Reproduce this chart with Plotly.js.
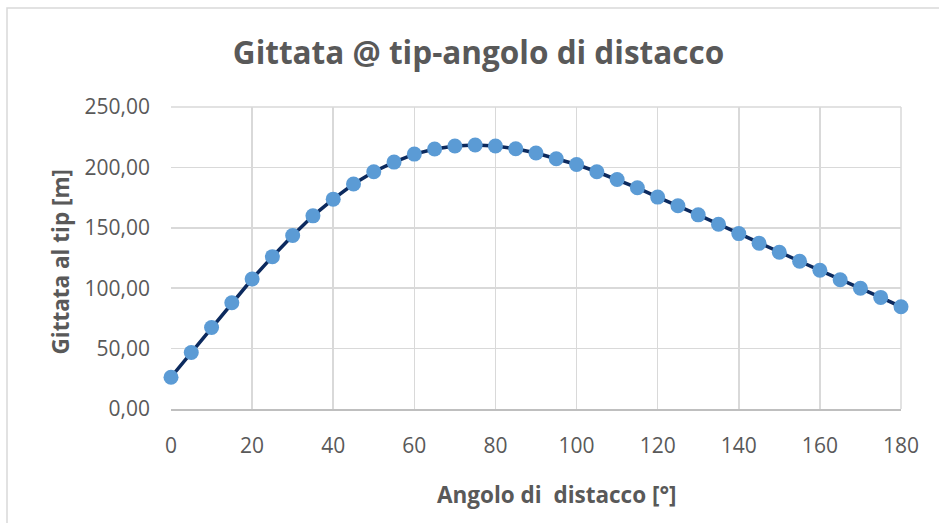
<!DOCTYPE html>
<html>
<head>
<meta charset="utf-8">
<script src="https://cdn.plot.ly/plotly-3.0.1.min.js"></script>
<style>html,body{margin:0;padding:0;background:#fff;}#chart{width:939px;height:523px;}</style>
</head>
<body>
<div id="chart"></div>
<script>
const angles = [0,5,10,15,20,25,30,35,40,45,50,55,60,65,70,75,80,85,90,95,100,105,110,115,120,125,130,135,140,145,150,155,160,165,170,175,180];
const range = [26.3,46.8,67.5,88.0,107.6,126.1,143.6,159.9,173.7,186.2,196.4,204.4,211.0,215.2,217.7,218.5,217.7,215.4,211.9,207.2,202.4,196.4,190.0,183.1,175.4,168.2,160.7,153.0,145.2,137.2,129.8,122.3,114.8,107.0,99.9,92.4,84.6];
const xTickVals = [0,20,40,60,80,100,120,140,160,180];
const yTickVals = [0,50,100,150,200,250];
const titleText = "Gittata @ tip-angolo di distacco";
const xTitle = "Angolo di  distacco [°]";
const yTitle = "Gittata al tip [m]";

const font = "Open Sans, sans-serif";
const gray = '#595959';
const L = 171, R = 901, T = 107, B = 409;
const px = v => (v - L) / (R - L);
const py = v => (B - v) / (B - T);

const trace = {
  x: angles, y: range, type: 'scatter', mode: 'lines+markers',
  line: {color: '#0c2a5e', width: 3.5},
  marker: {color: '#5b9bd5', size: 15},
  cliponaxis: false,
  hoverinfo: 'x+y'
};
const layout = {
  width: 939, height: 523,
  margin: {l: L, r: 939 - R, t: T, b: 523 - B},
  paper_bgcolor: '#fff', plot_bgcolor: '#fff',
  separators: ',.',
  showlegend: false,
  font: {family: font, color: gray, size: 21},
  title: {text: '<b>' + titleText + '</b>', x: 478.5 / 939, xanchor: 'center', y: 0.898, yanchor: 'middle',
          font: {family: font, size: 31.5, color: gray}},
  xaxis: {
    range: [0, 180], tickvals: xTickVals,
    showgrid: true, gridcolor: '#d9d9d9', gridwidth: 1.5,
    zeroline: false, showline: true, linecolor: '#bfbfbf', linewidth: 2,
    ticks: '', ticklabelstandoff: 17, tickfont: {size: 21, color: gray, family: font}
  },
  yaxis: {
    range: [0, 250], tickvals: yTickVals, tickformat: '.2f',
    showgrid: true, gridcolor: '#d9d9d9', gridwidth: 1.5,
    zeroline: false, showline: false, ticks: '', ticklabelstandoff: 20,
    tickfont: {size: 21, color: gray, family: font}
  },
  annotations: [
    {text: '<b>' + xTitle + '</b>', xref: 'paper', yref: 'paper', x: px(556.5), y: py(495),
     xanchor: 'center', yanchor: 'middle', showarrow: false, font: {size: 22.5, color: gray, family: font}},
    {text: '<b>' + yTitle + '</b>', xref: 'paper', yref: 'paper', x: px(59.5), y: py(261),
     xanchor: 'center', yanchor: 'middle', textangle: -90, showarrow: false, font: {size: 22.5, color: gray, family: font}}
  ],
  shapes: [
    {type: 'line', xref: 'paper', yref: 'paper', x0: 1, x1: 1, y0: 0, y1: 1, line: {color: '#d9d9d9', width: 1.5}, layer: 'below'},
    {type: 'line', xref: 'paper', yref: 'paper', x0: 0, x1: 1, y0: 1, y1: 1, line: {color: '#d9d9d9', width: 1.5}, layer: 'below'},
    {type: 'rect', xref: 'paper', yref: 'paper',
     x0: px(7), x1: px(1000), y0: py(560), y1: py(8),
     line: {color: '#d9d9d9', width: 1.5}, fillcolor: 'rgba(0,0,0,0)', layer: 'below'}
  ]
};
Plotly.newPlot('chart', [trace], layout, {displayModeBar: false, staticPlot: true});
</script>
</body>
</html>
